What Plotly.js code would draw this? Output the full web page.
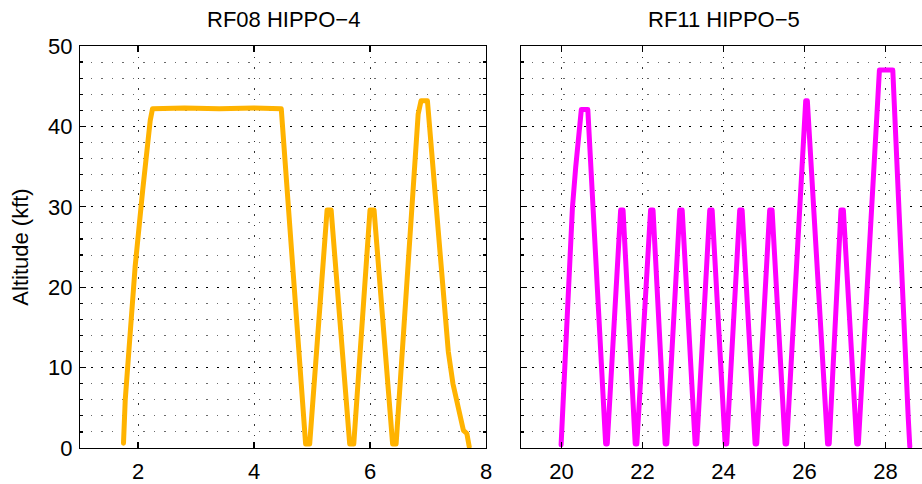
<!DOCTYPE html>
<html><head><meta charset="utf-8">
<script src="https://cdn.plot.ly/plotly-3.0.1.min.js"></script>
<style>
html,body{margin:0;padding:0;overflow:hidden;background:#fff}
#chart{width:926px;height:484px}
.js-line{stroke-linejoin:round;stroke-linecap:round}
</style></head><body><div id="chart"></div>
<script>
// RF08 HIPPO-4 flight: hours vs altitude (kft)
const rf08Hours = [1.75, 1.78, 1.95, 2.02, 2.08, 2.21, 2.25, 2.8, 3.4, 4.0, 4.47,
  4.89, 4.96, 5.26, 5.33, 5.65, 5.72, 6.00, 6.07, 6.39, 6.45, 6.83, 6.88, 6.99,
  7.10, 7.22, 7.35, 7.43, 7.52, 7.61, 7.67, 7.71];
const rf08Alt = [0.6, 6, 22.5, 28, 32, 40.7, 42.2, 42.3, 42.2, 42.3, 42.2,
  0.5, 0.5, 29.6, 29.6, 0.5, 0.5, 29.6, 29.6, 0.5, 0.5, 41.5, 43.2, 43.2,
  34, 23.3, 12, 8, 5, 2.2, 1.8, 0.2];
// RF11 HIPPO-5 flight
const rf11Hours = [19.99, 20.04, 20.19, 20.27, 20.35, 20.49, 20.65,
  21.09, 21.13, 21.46, 21.52, 21.82, 21.86, 22.20, 22.26, 22.56, 22.60,
  22.92, 22.98, 23.30, 23.34, 23.66, 23.72, 24.04, 24.08, 24.40, 24.46,
  24.78, 24.82, 25.14, 25.20, 25.52, 25.56, 26.03, 26.07, 26.57, 26.61,
  26.90, 26.96, 27.29, 27.33, 27.85, 28.18, 28.33, 28.48, 28.56, 28.60];
const rf11Alt = [0.4, 6, 19.6, 29.9, 34.9, 42.1, 42.1,
  0.5, 0.5, 29.6, 29.6, 0.5, 0.5, 29.6, 29.6, 0.5, 0.5,
  29.6, 29.6, 0.5, 0.5, 29.6, 29.6, 0.5, 0.5, 29.6, 29.6,
  0.5, 0.5, 29.6, 29.6, 0.5, 0.5, 43.2, 43.2, 0.5, 0.5,
  29.6, 29.6, 0.5, 0.5, 47.0, 47.0, 28.7, 10.1, 3.9, 0.2];
const panelTitles = ["RF08 HIPPO\u22124", "RF11 HIPPO\u22125"];
const yTitle = "Altitude (kft)";
const xTicks1 = [2, 4, 6, 8];
const xTicks2 = [20, 22, 24, 26, 28];
const yTicks = [0, 10, 20, 30, 40, 50];

const FONT = 'Liberation Sans, Arial, Helvetica, sans-serif';
const W = 926, H = 484, L = 80, R = 0, T = 46, B = 36;
const PW = W - L - R;
const dom1 = [0, 406 / PW];
const dom2 = [441 / PW, 1];

const axBase = {
  showline: true, linecolor: '#000', linewidth: 1.2, mirror: 'ticks',
  ticks: 'inside', ticklen: 6, tickwidth: 1.2, tickcolor: '#000',
  showgrid: true, zeroline: false, fixedrange: true,
  tickfont: {family: FONT, size: 22, color: '#000'}
};
const xGrid = {gridcolor: '#333', gridwidth: 1, griddash: '1.5px,9px'};
const yGrid = {gridcolor: '#000', gridwidth: 1.3, griddash: '2px,8.5px'};
const yMinor = {dtick: 2, ticks: 'inside', ticklen: 3, tickcolor: '#000',
  showgrid: true, gridcolor: '#6a6a6a', gridwidth: 1, griddash: '1.5px,9px'};

const traces = [
  {x: rf08Hours, y: rf08Alt, xaxis: 'x', yaxis: 'y', mode: 'lines',
   line: {color: '#FFB300', width: 5}, hoverinfo: 'skip'},
  {x: rf11Hours, y: rf11Alt, xaxis: 'x2', yaxis: 'y2', mode: 'lines',
   line: {color: '#FF00FF', width: 5}, hoverinfo: 'skip'}
];

const layout = {
  width: W, height: H, margin: {l: L, r: R, t: T, b: B, pad: 0},
  paper_bgcolor: '#fff', plot_bgcolor: '#fff', showlegend: false,
  font: {family: FONT, color: '#000'},
  xaxis: Object.assign({}, axBase, xGrid, {domain: dom1, range: [1, 8], tickvals: xTicks1, anchor: 'y', ticklabelstandoff: 3}),
  xaxis2: Object.assign({}, axBase, xGrid, {domain: dom2, range: [19, 29], tickvals: xTicks2, anchor: 'y2', ticklabelstandoff: 3}),
  yaxis: Object.assign({}, axBase, yGrid, {range: [0, 50], tickvals: yTicks, anchor: 'x', minor: yMinor,
    ticklabelstandoff: 2,
    title: {text: yTitle, font: {family: FONT, size: 22, color: '#000'}, standoff: 13}}),
  yaxis2: Object.assign({}, axBase, yGrid, {range: [0, 50], tickvals: yTicks, anchor: 'x2', minor: yMinor,
    showticklabels: false}),
  annotations: [
    {text: panelTitles[0], xref: 'paper', yref: 'paper', x: (dom1[0] + dom1[1]) / 2,
     y: 1 + 26 / (H - T - B), xanchor: 'center', yanchor: 'middle', showarrow: false,
     font: {family: FONT, size: 22, color: '#000'}},
    {text: panelTitles[1], xref: 'paper', yref: 'paper', x: (dom2[0] + dom2[1]) / 2,
     y: 1 + 26 / (H - T - B), xanchor: 'center', yanchor: 'middle', showarrow: false,
     font: {family: FONT, size: 22, color: '#000'}}
  ]
};
Plotly.newPlot('chart', traces, layout, {displayModeBar: false, staticPlot: true});
</script></body></html>
